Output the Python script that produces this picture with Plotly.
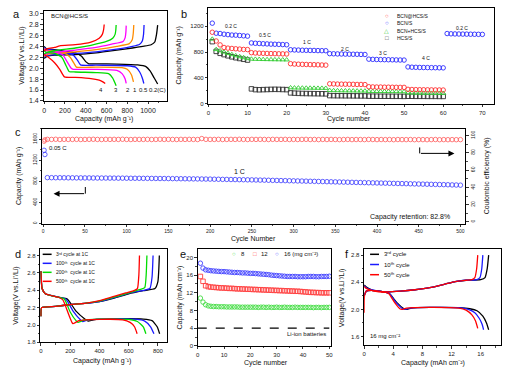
import plotly.graph_objects as go

FONT = "Liberation Sans, Arial, sans-serif"
W, H = 509, 381

# ---------------- Panel a : rate charge/discharge profiles (BCN@HCS/S) ----------------
A02_DIS_Q = [0, 20, 100, 200, 300, 360, 400, 430, 500, 700, 900, 980, 1020, 1060, 1093]
A02_DIS_V = [2.40, 2.36, 2.34, 2.31, 2.28, 2.22, 2.12, 2.08, 2.08, 2.075, 2.06, 2.03, 1.95, 1.82, 1.71]
A02_CH_Q = [0, 30, 100, 300, 500, 700, 850, 950, 1030, 1065, 1082, 1093]
A02_CH_V = [2.18, 2.22, 2.24, 2.25, 2.28, 2.33, 2.37, 2.40, 2.43, 2.48, 2.62, 2.79]
A05_DIS_Q = [0, 20, 100, 200, 280, 320, 350, 500, 800, 880, 920, 945, 960]
A05_DIS_V = [2.38, 2.35, 2.33, 2.29, 2.24, 2.15, 2.06, 2.055, 2.045, 2.02, 1.93, 1.82, 1.72]
A05_CH_Q = [0, 30, 100, 300, 500, 700, 850, 920, 945, 957, 962]
A05_CH_V = [2.20, 2.23, 2.25, 2.27, 2.30, 2.35, 2.40, 2.44, 2.50, 2.62, 2.79]
A1_DIS_Q = [0, 20, 100, 200, 250, 290, 310, 500, 750, 800, 840, 860]
A1_DIS_V = [2.36, 2.33, 2.31, 2.27, 2.20, 2.08, 2.02, 2.02, 2.01, 1.98, 1.88, 1.75]
A1_CH_Q = [0, 30, 100, 300, 500, 700, 820, 848, 858, 863]
A1_CH_V = [2.22, 2.25, 2.27, 2.30, 2.34, 2.40, 2.45, 2.52, 2.64, 2.79]
A2_DIS_Q = [0, 20, 100, 180, 220, 260, 280, 500, 700, 750, 780, 790]
A2_DIS_V = [2.35, 2.32, 2.30, 2.24, 2.12, 2.00, 1.98, 1.98, 1.96, 1.90, 1.80, 1.72]
A2_CH_Q = [0, 30, 100, 300, 500, 650, 760, 780, 787, 790]
A2_CH_V = [2.24, 2.27, 2.29, 2.33, 2.38, 2.44, 2.49, 2.56, 2.66, 2.78]
A3_DIS_Q = [0, 20, 100, 170, 210, 240, 300, 500, 620, 660, 693]
A3_DIS_V = [2.32, 2.29, 2.27, 2.20, 2.05, 1.94, 1.93, 1.92, 1.90, 1.82, 1.68]
A3_CH_Q = [0, 30, 100, 300, 450, 600, 660, 683, 690, 693]
A3_CH_V = [2.26, 2.29, 2.32, 2.37, 2.42, 2.49, 2.55, 2.62, 2.70, 2.79]
A4_DIS_Q = [0, 40, 100, 150, 195, 300, 450, 530, 565, 588]
A4_DIS_V = [2.25, 2.20, 2.10, 1.98, 1.84, 1.83, 1.81, 1.78, 1.75, 1.72]
A4_CH_Q = [0, 30, 100, 150, 300, 450, 530, 560, 572, 578]
A4_CH_V = [2.32, 2.36, 2.38, 2.41, 2.43, 2.48, 2.55, 2.62, 2.70, 2.80]
A_RATE_LABELS = ["4", "3", "2", "1", "0.5", "0.2(C)"]

# ---------------- Panel b : rate capability ----------------
B_NAMES = ["BCN@HCS/S", "BCN/S", "BCN+HCS/S", "HCS/S"]
B_BCN_HCS_S = [1105, 970, 910, 870, 860, 855, 850, 845, 840, 838,
               790, 785, 782, 780, 778, 776, 775, 773, 772, 770,
               620, 615, 612, 610, 608, 606, 605, 603, 600, 598,
               310, 308, 306, 305, 304, 303, 302, 300, 300, 298,
               265, 262, 260, 260, 258, 258, 257, 256, 255, 255,
               225, 222, 220, 219, 218, 217, 216, 215, 215, 214]
B_BCN_S = [1245, 1090, 1085, 1075, 1068, 1062, 1060, 1055, 1050, 1045,
           940, 935, 932, 928, 925, 922, 920, 918, 915, 912,
           835, 832, 830, 828, 826, 825, 824, 822, 821, 820,
           775, 773, 771, 770, 768, 767, 766, 765, 763, 762,
           690, 687, 685, 683, 682, 681, 680, 678, 677, 676,
           570, 566, 564, 562, 561, 560, 559, 558, 557, 556,
           1085, 1081, 1079, 1078, 1077, 1076, 1075, 1074, 1073, 1072]
B_BCN_PLUS_HCS_S = [1000, 840, 820, 800, 780, 762, 745, 730, 715, 700,
                    692, 690, 688, 686, 685, 684, 683, 682, 681, 680,
                    250, 248, 247, 246, 245, 245, 244, 243, 243, 242,
                    208, 206, 205, 204, 203, 202, 202, 201, 200, 200,
                    195, 194, 193, 193, 192, 192, 191, 191, 190, 190,
                    170, 169, 168, 168, 167, 167, 166, 166, 165, 165]
B_HCS_S = [960, 810, 780, 760, 742, 726, 712, 700, 688, 676,
           232, 220, 218, 220, 222, 224, 225, 224, 222, 220,
           170, 166, 163, 161, 160, 159, 158, 157, 156, 155,
           128, 127, 126, 126, 125, 125, 124, 124, 123, 123,
           120, 119, 119, 118, 118, 118, 117, 117, 117, 116,
           118, 118, 117, 117, 117, 116, 116, 116, 115, 115]
B_RATE_LABELS = ["0.2 C", "0.5 C", "1 C", "2 C", "3 C", "4 C", "0.2 C"]

# ---------------- Panel c : long cycling at 1 C ----------------
C_CYCLES = [1, 2] + list(range(5, 501, 5))
C_CAPACITY = [1390, 1310,
              872, 871, 870, 870, 869, 868, 868, 867, 867, 866,
              866, 865, 865, 864, 864, 863, 863, 862, 862, 861,
              860, 860, 859, 858, 858, 857, 856, 855, 855, 854,
              853, 852, 851, 850, 849, 848, 847, 846, 845, 844,
              842, 841, 839, 838, 836, 835, 833, 832, 830, 829,
              827, 825, 824, 822, 820, 818, 816, 815, 813, 811,
              809, 807, 805, 803, 801, 799, 797, 795, 793, 791,
              789, 787, 785, 783, 781, 779, 777, 775, 773, 771,
              769, 767, 765, 763, 761, 759, 757, 755, 753, 751,
              749, 747, 745, 743, 741, 739, 737, 734, 732, 729]
C_CE = [93.5, 95.0,
        95.6, 95.5, 95.7, 95.4, 95.6, 95.5, 95.5, 95.6, 95.4, 95.5,
        95.6, 95.7, 95.5, 95.4, 95.6, 95.5, 95.6, 95.5, 95.7, 95.5,
        95.4, 95.6, 95.5, 95.5, 95.6, 95.4, 95.5, 95.7, 95.5, 95.6,
        95.5, 95.4, 95.6, 95.5, 95.6, 95.5, 95.4, 96.5, 95.6, 95.5,
        95.5, 95.6, 95.4, 95.5, 95.6, 95.5, 95.7, 95.5, 95.4, 95.6,
        95.5, 95.6, 95.5, 95.4, 95.6, 95.5, 95.5, 95.6, 95.4, 95.5,
        95.4, 95.5, 95.6, 95.4, 95.5, 95.3, 95.5, 95.4, 95.5, 95.4,
        95.3, 95.4, 95.5, 95.3, 95.4, 95.4, 95.3, 95.5, 95.4, 95.3,
        95.4, 95.3, 95.4, 95.2, 95.4, 95.3, 95.3, 95.4, 95.2, 95.3,
        95.3, 95.2, 95.3, 95.4, 95.2, 95.3, 95.2, 95.3, 95.2, 95.3]

# ---------------- Panel d : profiles at 1 C for different cycles ----------------
D_LABELS = ["3ʳᵈ cycle at 1C", "100ᵗʰ  cycle at 1C", "200ᵗʰ  cycle at 1C", "500ᵗʰ  cycle at 1C"]
D3_DIS_Q = [0, 8, 30, 120, 180, 240, 300, 323, 360, 500, 700, 760, 795, 812]
D3_DIS_V = [2.62, 2.42, 2.36, 2.32, 2.30, 2.16, 2.07, 2.046, 2.06, 2.07, 2.068, 2.05, 1.98, 1.90]
D3_CH_Q = [0, 5, 100, 200, 300, 400, 500, 600, 700, 780, 800, 810]
D3_CH_V = [2.10, 2.20, 2.215, 2.235, 2.25, 2.27, 2.31, 2.36, 2.395, 2.42, 2.50, 2.80]
D100_DIS_Q = [0, 8, 30, 120, 170, 220, 270, 286, 320, 400, 650, 710, 750, 773]
D100_DIS_V = [2.62, 2.42, 2.36, 2.32, 2.30, 2.16, 2.06, 2.04, 2.058, 2.068, 2.068, 2.045, 1.98, 1.90]
D100_CH_Q = [0, 5, 100, 200, 300, 400, 500, 600, 700, 745, 760, 767]
D100_CH_V = [2.10, 2.20, 2.215, 2.235, 2.25, 2.27, 2.315, 2.365, 2.40, 2.42, 2.55, 2.80]
D200_DIS_Q = [0, 8, 30, 120, 160, 200, 240, 253, 290, 400, 600, 660, 700, 718]
D200_DIS_V = [2.62, 2.42, 2.36, 2.32, 2.30, 2.15, 2.05, 2.03, 2.055, 2.068, 2.065, 2.04, 1.98, 1.90]
D200_CH_Q = [0, 5, 100, 200, 300, 400, 500, 600, 680, 710, 720, 725]
D200_CH_V = [2.10, 2.20, 2.215, 2.235, 2.25, 2.275, 2.32, 2.37, 2.41, 2.43, 2.58, 2.80]
D500_DIS_Q = [0, 8, 30, 120, 150, 190, 212, 219, 260, 400, 560, 610, 640, 658]
D500_DIS_V = [2.62, 2.42, 2.36, 2.32, 2.29, 2.12, 2.03, 2.015, 2.05, 2.065, 2.06, 2.03, 1.98, 1.90]
D500_CH_Q = [0, 5, 100, 200, 300, 400, 500, 580, 640, 660, 670, 674]
D500_CH_V = [2.10, 2.20, 2.215, 2.235, 2.25, 2.28, 2.33, 2.37, 2.40, 2.42, 2.58, 2.80]

# ---------------- Panel e : areal capacity at high loadings ----------------
E_CYCLES = list(range(1, 51))
E_LOADINGS = ["8", "12", "16 (mg cm⁻²)"]
E_8 = [10.8, 9.9, 9.3, 9.05, 8.95, 8.9, 8.9, 8.85, 8.85, 8.85,
       8.8, 8.8, 8.8, 8.8, 8.8, 8.75, 8.75, 8.75, 8.75, 8.75,
       8.75, 8.75, 8.7, 8.75, 8.75, 8.7, 8.75, 8.7, 8.7, 8.75,
       8.7, 8.7, 8.75, 8.7, 8.7, 8.7, 8.75, 8.7, 8.7, 8.7,
       8.7, 8.7, 8.7, 8.65, 8.7, 8.7, 8.65, 8.7, 8.7, 8.7]
E_12 = [15.7, 14.6, 13.6, 13.4, 13.3, 13.25, 13.2, 13.15, 13.1, 13.1,
        13.05, 13.0, 13.0, 12.95, 12.9, 12.9, 12.85, 12.85, 12.8, 12.8,
        12.75, 12.75, 12.7, 12.7, 12.65, 12.65, 12.6, 12.6, 12.55, 12.55,
        12.5, 12.5, 12.45, 12.45, 12.4, 12.4, 12.35, 12.35, 12.3, 12.25,
        12.2, 12.15, 12.1, 12.1, 12.05, 12.05, 12.0, 12.0, 12.0, 12.0]
E_16 = [18.7, 17.6, 17.2, 17.1, 17.0, 16.95, 16.9, 16.85, 16.8, 16.8,
        16.75, 16.7, 16.65, 16.6, 16.6, 16.55, 16.5, 16.5, 16.45, 16.4,
        16.4, 16.35, 16.3, 16.25, 16.2, 16.15, 16.1, 16.0, 15.95, 15.9,
        15.85, 15.8, 15.75, 15.7, 15.7, 15.7, 15.7, 15.65, 15.65, 15.65,
        15.65, 15.7, 15.7, 15.7, 15.65, 15.65, 15.7, 15.7, 15.7, 15.75]
E_LIION_LEVEL = 4
E_LIION_SPAN = [0, 50]

# ---------------- Panel f : profiles at 16 mg cm-2 ----------------
F_LABELS = ["3ʳᵈ cycle", "10ᵗʰ cycle", "50ᵗʰ cycle"]
F3_DIS_Q = [0, 0.3, 1, 2, 3, 3.5, 4.5, 5.5, 5.9, 6.5, 9, 13, 14.5, 15.5, 16.3, 16.8, 17.1]
F3_DIS_V = [2.36, 2.33, 2.29, 2.27, 2.25, 2.23, 2.10, 2.01, 2.00, 2.02, 2.03, 2.025, 2.01, 1.98, 1.90, 1.80, 1.70]
F3_CH_Q = [0, 0.3, 1, 2, 3, 5, 7, 9, 11, 12.5, 14, 16, 16.6, 16.9, 17.1]
F3_CH_V = [2.20, 2.27, 2.28, 2.27, 2.26, 2.27, 2.29, 2.32, 2.37, 2.41, 2.43, 2.44, 2.47, 2.60, 2.80]
F10_DIS_Q = [0, 0.3, 1, 2, 3, 3.5, 4.4, 5.3, 5.7, 6.3, 9, 13, 14.3, 15.2, 15.8, 16.2, 16.4]
F10_DIS_V = [2.35, 2.32, 2.29, 2.27, 2.25, 2.23, 2.10, 2.01, 2.00, 2.02, 2.03, 2.025, 2.00, 1.95, 1.87, 1.78, 1.70]
F10_CH_Q = [0, 0.3, 1, 2, 3, 5, 7, 9, 11, 12.5, 14, 15.5, 15.9, 16.15, 16.3]
F10_CH_V = [2.20, 2.27, 2.28, 2.27, 2.26, 2.27, 2.29, 2.32, 2.37, 2.41, 2.43, 2.44, 2.47, 2.60, 2.80]
F50_DIS_Q = [0, 0.3, 1, 2, 3, 3.4, 4.2, 4.9, 5.2, 5.8, 9, 13, 14.0, 14.8, 15.3, 15.6]
F50_DIS_V = [2.34, 2.31, 2.28, 2.26, 2.25, 2.23, 2.10, 2.01, 2.00, 2.02, 2.03, 2.02, 1.99, 1.92, 1.83, 1.72]
F50_CH_Q = [0, 0.05, 0.3, 1, 2, 3, 5, 7, 9, 11, 12.5, 14, 14.8, 15.2, 15.45, 15.6]
F50_CH_V = [1.95, 2.20, 2.27, 2.28, 2.27, 2.26, 2.27, 2.29, 2.32, 2.37, 2.41, 2.43, 2.44, 2.47, 2.60, 2.80]

# ---------------- colours ----------------
BLACK, BLUE, ORANGE, MAGENTA, GREEN, RED = "#000000", "#1a1aff", "#ff8c00", "#ff00ff", "#00dd00", "#ff0000"


def px(x):
    return x / W


def py(y):
    return 1 - y / H


fig = go.Figure()


def add_line(xs, ys, color, xa, ya, width=1.3):
    fig.add_trace(go.Scatter(x=xs, y=ys, mode="lines", xaxis=xa, yaxis=ya, showlegend=False,
                             hoverinfo="skip",
                             line=dict(color=color, width=width, shape="spline", smoothing=0.5)))


def add_markers(xs, ys, color, symbol, xa, ya, size=4.5, lw=0.9):
    fig.add_trace(go.Scatter(x=xs, y=ys, mode="markers", xaxis=xa, yaxis=ya, showlegend=False,
                             hoverinfo="skip",
                             marker=dict(symbol=symbol, size=size, color=color,
                                         line=dict(color=color, width=lw))))


# panel a
for q, v, c in [(A02_DIS_Q, A02_DIS_V, BLACK), (A02_CH_Q, A02_CH_V, BLACK),
                (A05_DIS_Q, A05_DIS_V, BLUE), (A05_CH_Q, A05_CH_V, BLUE),
                (A1_DIS_Q, A1_DIS_V, ORANGE), (A1_CH_Q, A1_CH_V, ORANGE),
                (A2_DIS_Q, A2_DIS_V, MAGENTA), (A2_CH_Q, A2_CH_V, MAGENTA),
                (A3_DIS_Q, A3_DIS_V, GREEN), (A3_CH_Q, A3_CH_V, GREEN),
                (A4_DIS_Q, A4_DIS_V, RED), (A4_CH_Q, A4_CH_V, RED)]:
    add_line(q, v, c, "x", "y")

# panel b
B_COLORS = ["#ff3030", "#2b2bff", "#33cc33", "#303030"]
B_SYMBOLS = ["circle-open", "circle-open", "triangle-up-open", "square-open"]
for vals, c, s in zip([B_HCS_S, B_BCN_PLUS_HCS_S, B_BCN_S, B_BCN_HCS_S],
                      [B_COLORS[3], B_COLORS[2], B_COLORS[1], B_COLORS[0]],
                      [B_SYMBOLS[3], B_SYMBOLS[2], B_SYMBOLS[1], B_SYMBOLS[0]]):
    add_markers(list(range(1, len(vals) + 1)), vals, c, s, "x2", "y2")

# panel c
add_markers(C_CYCLES, C_CE, "#ff5a5a", "circle-open", "x3", "y7", size=4.5, lw=0.8)
add_markers(C_CYCLES, C_CAPACITY, "#3a3aff", "circle-open", "x3", "y3", size=4.5, lw=0.8)

# panel d
for q, v, c in [(D3_DIS_Q, D3_DIS_V, BLACK), (D3_CH_Q, D3_CH_V, BLACK),
                (D100_DIS_Q, D100_DIS_V, BLUE), (D100_CH_Q, D100_CH_V, BLUE),
                (D200_DIS_Q, D200_DIS_V, GREEN), (D200_CH_Q, D200_CH_V, GREEN),
                (D500_DIS_Q, D500_DIS_V, RED), (D500_CH_Q, D500_CH_V, RED)]:
    add_line(q, v, c, "x4", "y4")

# panel e
fig.add_trace(go.Scatter(x=E_LIION_SPAN, y=[E_LIION_LEVEL, E_LIION_LEVEL], mode="lines",
                         xaxis="x5", yaxis="y5", showlegend=False, hoverinfo="skip",
                         line=dict(color="black", width=1.2, dash="dash")))
add_markers(E_CYCLES, E_8, "#44dd44", "circle-open", "x5", "y5")
add_markers(E_CYCLES, E_12, "#ff4040", "square-open", "x5", "y5")
add_markers(E_CYCLES, E_16, "#4040ff", "circle-open", "x5", "y5")

# panel f
for q, v, c in [(F3_DIS_Q, F3_DIS_V, BLACK), (F3_CH_Q, F3_CH_V, BLACK),
                (F10_DIS_Q, F10_DIS_V, BLUE), (F10_CH_Q, F10_CH_V, BLUE),
                (F50_DIS_Q, F50_DIS_V, RED), (F50_CH_Q, F50_CH_V, RED)]:
    add_line(q, v, c, "x6", "y6")


# ---------------- axes ----------------
def ax(domain_px, rng, dtick, minor, anchor, vertical=False, tick0=None, fmt=None,
       mirror=True, angle=None, side=None, fs=6):
    if vertical:
        dom = [py(domain_px[1]), py(domain_px[0])]
    else:
        dom = [px(domain_px[0]), px(domain_px[1])]
    d = dict(domain=dom, range=rng, dtick=dtick, anchor=anchor, showline=True,
             linecolor="black", linewidth=1, mirror=mirror, ticks="outside", ticklen=2.5,
             tickwidth=0.8, tickcolor="black", showgrid=False, zeroline=False,
             tickfont=dict(size=fs, family=FONT, color="#222"),
             minor=dict(ticks="outside", ticklen=1.5, dtick=minor, tickcolor="black",
                        tickwidth=0.7, showgrid=False))
    if tick0 is not None:
        d["tick0"] = tick0
    if fmt:
        d["tickformat"] = fmt
    if angle is not None:
        d["tickangle"] = angle
    if side:
        d["side"] = side
    return d


layout_axes = dict(
    xaxis=ax([42, 166], [-5, 1180], 200, 100, "y", fs=7),
    yaxis=ax([10, 101], [1.4, 3.05], 0.2, 0.1, "x", vertical=True, tick0=1.4, fmt=".1f", fs=7),
    xaxis2=ax([208, 496], [0, 73], 10, 5, "y2"),
    yaxis2=ax([7, 104], [0, 1480], 400, 200, "x2", vertical=True),
    xaxis3=ax([40.7, 466.7], [-1, 505.5], 50, 25, "y3", fs=5),
    yaxis3=ax([129, 225], [0, 1800], 400, 200, "x3", vertical=True, angle=-90, mirror=False, fs=5),
    yaxis7=dict(ax([129, 225], [-2, 108], 20, 10, "x3", vertical=True, angle=-90, mirror=False, fs=5),
                overlaying="y3", side="right"),
    xaxis4=ax([38.5, 166.7], [-5, 865], 200, 100, "y4"),
    yaxis4=ax([250.7, 345], [1.8, 2.875], 0.2, 0.1, "x4", vertical=True, tick0=1.8, fmt=".1f"),
    xaxis5=ax([197.3, 332], [0, 50.8], 10, 5, "y5"),
    yaxis5=ax([250.7, 348.5], [0, 21.9], 4, 2, "x5", vertical=True),
    xaxis6=ax([365, 503], [0, 18.8], 4, 2, "y6"),
    yaxis6=ax([250.7, 348], [1.47, 2.89], 0.4, 0.2, "x6", vertical=True, tick0=1.6, fmt=".1f"),
)

# ---------------- text ----------------
ann = []


def txt(x, y, s, size=7, xanchor="center", yanchor="middle", angle=0, color="#111"):
    ann.append(dict(x=px(x), y=py(y), xref="paper", yref="paper", text=s, showarrow=False,
                    font=dict(size=size, family=FONT, color=color), xanchor=xanchor,
                    yanchor=yanchor, textangle=angle, borderpad=0))


# panel letters
for s, x, y in [("a", 15, 13), ("b", 183, 13), ("c", 16, 132), ("d", 16, 256), ("e", 182, 256), ("f", 348, 256)]:
    txt(x, y, s, size=11)

# axis titles
txt(20, 55.5, "Voltage(V vs.Li⁺/Li)", size=7, angle=-90)
txt(103, 119, "Capacity (mAh g⁻¹)", size=7)
txt(178, 55.5, "Capacity (mAh g⁻¹)", size=7, angle=-90)
txt(350, 119, "Cycle number", size=7)
txt(17, 177, "Capacity (mAh g⁻¹)", size=7, angle=-90)
txt(489, 177, "Coulombic efficiency (%)", size=7, angle=-90)
txt(253, 241, "Cycle Number", size=7)
txt(14, 298, "Voltage(V vs.Li⁺/Li)", size=7, angle=-90)
txt(101, 364, "Capacity (mAh g⁻¹)", size=7)
txt(179, 300, "Capacity (mAh cm⁻²)", size=7, angle=-90)
txt(266, 366, "Cycle number", size=7)
txt(343, 300, "Voltage(V vs.Li⁺/Li)", size=7, angle=-90)
txt(434, 366, "Capacity (mAh cm⁻²)", size=7)

# panel a annotations
txt(48, 15, "BCN@HCS/S", size=6, xanchor="left")
for s, x in zip(A_RATE_LABELS, [100, 115, 127.5, 134, 143, 157]):
    txt(x, 90, s, size=6)

# panel b rate labels
for s, x, y in zip(B_RATE_LABELS, [231, 265, 307, 346, 384, 427, 464],
                   [25, 34, 41.7, 48.3, 52.3, 57.3, 27.7]):
    txt(x, y, s, size=5)
# panel b legend
for i, (name, c, sym) in enumerate(zip(B_NAMES, B_COLORS, ["○", "○", "△", "□"])):
    yy = 15 + i * 7.6
    txt(388, yy, sym, size=6, color=c)
    txt(397, yy, name, size=5, xanchor="left")

# panel c
txt(46, 149, "0.05 C", size=6, xanchor="left")
txt(233, 172, "1 C", size=7, xanchor="left")
txt(370, 218, "Capacity retention: 82.8%", size=7, xanchor="left")

# panel d legend
D_COLORS = [BLACK, BLUE, GREEN, RED]
shapes = []
for i, (lab, c) in enumerate(zip(D_LABELS, D_COLORS)):
    yy = 256 + i * 9.1
    shapes.append(dict(type="line", xref="paper", yref="paper", x0=px(41), x1=px(50),
                       y0=py(yy), y1=py(yy), line=dict(color=c, width=1.5)))
    txt(53, yy, lab, size=5, xanchor="left")

# panel e legend
txt(233.5, 256, "○", size=6, color="#44dd44")
txt(240, 256, E_LOADINGS[0], size=6, xanchor="left")
txt(254.5, 256, "□", size=6, color="#ff4040")
txt(260, 256, E_LOADINGS[1], size=6, xanchor="left")
txt(277, 256, "○", size=6, color="#4040ff")
txt(283, 256, E_LOADINGS[2], size=6, xanchor="left")
txt(286, 337, "Li-ion batteries", size=6, xanchor="left")

# panel f legend
F_COLORS = [BLACK, BLUE, RED]
for i, (lab, c) in enumerate(zip(F_LABELS, F_COLORS)):
    yy = 256 + i * 10.3
    shapes.append(dict(type="line", xref="paper", yref="paper", x0=px(371), x1=px(380),
                       y0=py(yy), y1=py(yy), line=dict(color=c, width=1.5)))
    txt(384, yy, lab, size=6, xanchor="left")
txt(370, 339, "16 mg cm⁻²", size=6, xanchor="left")

# panel c arrows
shapes.append(dict(type="line", xref="paper", yref="paper", x0=px(84), x1=px(84),
                   y0=py(188), y1=py(194.7), line=dict(color="black", width=1)))
shapes.append(dict(type="line", xref="paper", yref="paper", x0=px(421), x1=px(421),
                   y0=py(148), y1=py(154), line=dict(color="black", width=1)))
ann.append(dict(x=px(52), y=py(194.7), xref="paper", yref="paper", text="", showarrow=True,
                ax=32, ay=0, arrowhead=2, arrowsize=1.2, arrowwidth=1, arrowcolor="black"))
ann.append(dict(x=px(456), y=py(154), xref="paper", yref="paper", text="", showarrow=True,
                ax=-35, ay=0, arrowhead=2, arrowsize=1.2, arrowwidth=1, arrowcolor="black"))

fig.update_layout(width=W, height=H, margin=dict(l=0, r=0, t=0, b=0),
                  paper_bgcolor="white", plot_bgcolor="white", showlegend=False,
                  font=dict(family=FONT, size=7, color="#111"),
                  annotations=ann, shapes=shapes, **layout_axes)

fig.write_html("out.html", config={"displayModeBar": False, "staticPlot": True},
               post_script="document.body.style.margin='0';document.body.style.padding='0';")
